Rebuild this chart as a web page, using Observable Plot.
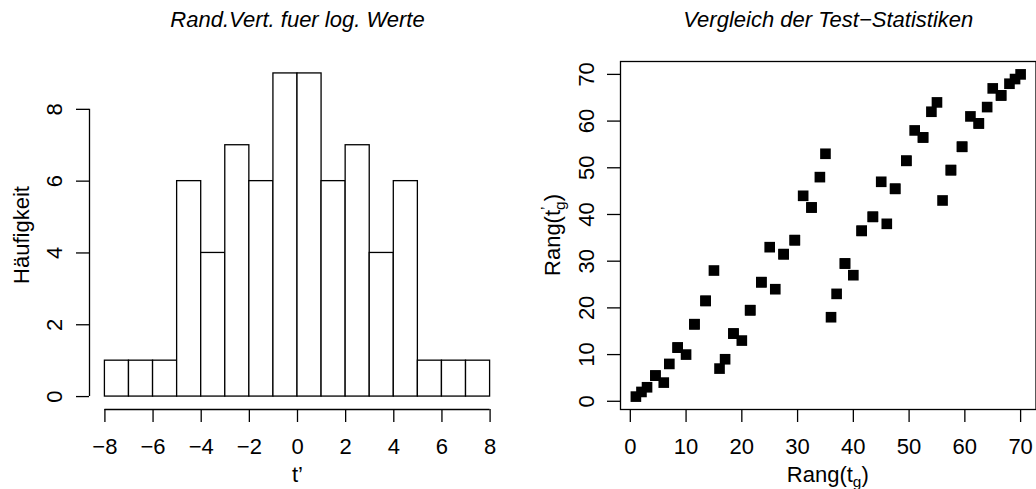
<!DOCTYPE html>
<html>
<head>
<meta charset="utf-8">
<script src="https://cdn.jsdelivr.net/npm/d3@7"></script>
<script src="https://cdn.jsdelivr.net/npm/@observablehq/plot@0.6"></script>
<style>
  html, body { margin: 0; padding: 0; background: #fff; }
  #wrap { position: relative; width: 1036px; height: 489px; overflow: hidden; background: #fff; }
  #wrap svg { position: absolute; top: 0; }
</style>
</head>
<body>
<div id="wrap"></div>
<script>
// ---------- data ----------
const histTitle = "Rand.Vert. fuer log. Werte";
const scatterTitle = "Vergleich der Test\u2212Statistiken";
const binStarts = [-8, -7, -6, -5, -4, -3, -2, -1, 0, 1, 2, 3, 4, 5, 6, 7];
const binCounts = [1, 1, 1, 6, 4, 7, 6, 9, 9, 6, 7, 4, 6, 1, 1, 1];
const binWidth = 1;
const histXTicks = [-8, -6, -4, -2, 0, 2, 4, 6, 8];
const histYTicks = [0, 2, 4, 6, 8];

const rankTg = [1,2,3,4.5,4.5,6,7,8.5,8.5,10,11.5,11.5,13.5,13.5,15,16,17,18.5,18.5,20,
  21.5,21.5,23.5,23.5,25,26,27.5,27.5,29.5,29.5,31,32.5,32.5,34,35,36,37,38.5,38.5,40,
  41.5,41.5,43.5,43.5,45,46,47.5,47.5,49.5,49.5,51,52.5,52.5,54,55,56,57.5,57.5,59.5,59.5,
  61,62.5,62.5,64,65,66.5,66.5,68,69,70];
const rankTpg = [1,2,3,5.5,5.5,4,8,11.5,11.5,10,16.5,16.5,21.5,21.5,28,7,9,14.5,14.5,13,
  19.5,19.5,25.5,25.5,33,24,31.5,31.5,34.5,34.5,44,41.5,41.5,48,53,18,23,29.5,29.5,27,
  36.5,36.5,39.5,39.5,47,38,45.5,45.5,51.5,51.5,58,56.5,56.5,62,64,43,49.5,49.5,54.5,54.5,
  61,59.5,59.5,63,67,65.5,65.5,68,69,70];
const rankTicks = [0, 10, 20, 30, 40, 50, 60, 70];

// ---------- styling ----------
const ff = "'Liberation Sans', Arial, Helvetica, sans-serif";
const fs = 22;
const lw = 1.3;
const minus = d => (d < 0 ? "\u2212" + Math.abs(d) : String(d));

// R-style 4% axis extension
const ext = (a, b) => { const r = (b - a) * 0.04; return [a - r, b + r]; };

const bins = binStarts.map((s, i) => ({x1: s, x2: s + binWidth, count: binCounts[i]}));
const histXDomain = ext(d3.min(binStarts), d3.max(binStarts) + binWidth);
const histYDomain = ext(0, d3.max(binCounts));

const points = rankTg.map((x, i) => ({x, y: rankTpg[i]}));
const rankDomainX = ext(d3.min(rankTg), d3.max(rankTg));
const rankDomainY = ext(d3.min(rankTpg), d3.max(rankTpg));

const baseStyle = {fontFamily: ff, fontSize: fs + "px", color: "black", background: "white", overflow: "visible"};

// ---------- left: histogram ----------
const left = Plot.plot({
  width: 518, height: 489,
  marginLeft: 89, marginRight: 13, marginTop: 60, marginBottom: 80,
  style: baseStyle,
  x: {domain: histXDomain},
  y: {domain: histYDomain},
  marks: [
    Plot.rectY(bins, {x1: "x1", x2: "x2", y1: 0, y2: "count", fill: "white", stroke: "black", strokeWidth: lw}),
    Plot.ruleY([histYDomain[0]], {x1: d3.min(histXTicks), x2: d3.max(histXTicks), stroke: "black", strokeWidth: lw}),
    Plot.ruleX([histXDomain[0]], {y1: d3.min(histYTicks), y2: d3.max(histYTicks), stroke: "black", strokeWidth: lw}),
    Plot.axisX({ticks: histXTicks, tickSize: 13, tickPadding: 15.7, tickFormat: minus, label: null,
      fontSize: fs, strokeWidth: lw}),
    Plot.axisY({ticks: histYTicks, tickSize: 13, tickPadding: 14.3, tickRotate: -90, label: null,
      fontSize: fs, strokeWidth: lw}),
    Plot.text([histTitle], {frameAnchor: "top", textAnchor: "middle", lineAnchor: "bottom", dy: -34, fontStyle: "italic", fontSize: fs}),
    Plot.text(["t\u2019"], {frameAnchor: "bottom", textAnchor: "middle", lineAnchor: "bottom", dy: 72.5, fontSize: fs}),
    Plot.text(["H\u00e4ufigkeit"], {frameAnchor: "left", textAnchor: "middle", lineAnchor: "bottom", rotate: -90, dx: -60.5, fontSize: fs})
  ]
});
left.style.left = "0px";

// ---------- right: scatter ----------
const right = Plot.plot({
  width: 518, height: 489,
  marginLeft: 102, marginRight: 0.5, marginTop: 61, marginBottom: 80,
  style: baseStyle,
  x: {domain: rankDomainX},
  y: {domain: rankDomainY},
  marks: [
    Plot.frame({stroke: "black", strokeWidth: lw}),
    Plot.dot(points, {x: "x", y: "y", symbol: "square", r: 6, fill: "black", stroke: "none"}),
    Plot.axisX({ticks: rankTicks, tickSize: 13, tickPadding: 15.7, label: null, fontSize: fs, strokeWidth: lw}),
    Plot.axisY({ticks: rankTicks, tickSize: 13, tickPadding: 14, tickRotate: -90, label: null,
      fontSize: fs, strokeWidth: lw}),
    Plot.text([scatterTitle], {frameAnchor: "top", textAnchor: "middle", lineAnchor: "bottom", dy: -35, fontStyle: "italic", fontSize: fs})
  ]
});
right.style.left = "518px";

// axis titles with sub/superscripts (plotmath style)
function rangLabel(svg, tx, ty, rot, prime) {
  const t = d3.select(svg).append("text")
    .attr("transform", `translate(${tx},${ty})` + (rot ? " rotate(-90)" : ""))
    .attr("text-anchor", "middle")
    .attr("font-family", ff).attr("font-size", fs).attr("fill", "black");
  const small = fs * 0.7;
  t.append("tspan").text("Rang(t");
  if (prime) {
    t.append("tspan").attr("font-size", small).attr("dy", -9).text("\u2019");
    t.append("tspan").attr("font-size", small).attr("dx", -small * 0.222).attr("dy", 14).text("g");
    t.append("tspan").attr("dy", -5).text(")");
  } else {
    t.append("tspan").attr("font-size", small).attr("dy", 5).text("g");
    t.append("tspan").attr("dy", -5).text(")");
  }
}
const rMidX = (102 + 518 - 0.5) / 2;
const rMidY = (61 + 489 - 80) / 2;
rangLabel(right, rMidX, 481.5, false, false);
rangLabel(right, 41.5, rMidY, true, true);

const wrap = document.getElementById("wrap");
wrap.appendChild(left);
wrap.appendChild(right);
</script>
</body>
</html>
